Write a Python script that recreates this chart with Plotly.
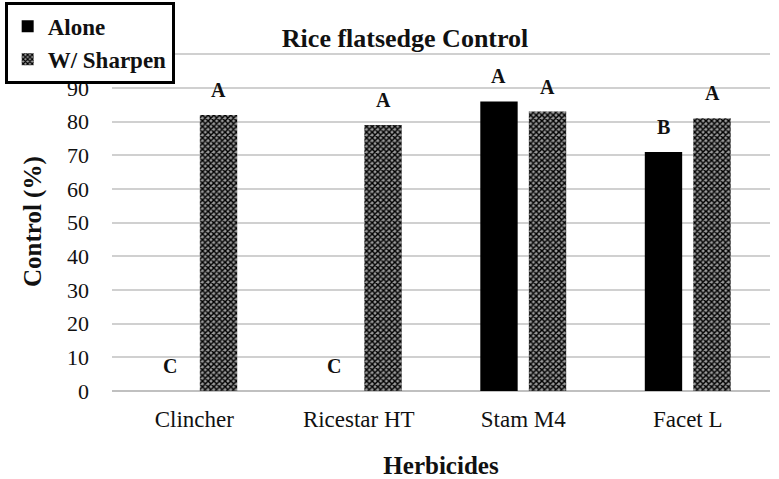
import plotly.graph_objects as go

categories = ["Clincher", "Ricestar HT", "Stam M4", "Facet L"]
alone = [0, 0, 86, 71]
sharpen = [82, 79, 83, 81]
alone_letters = ["C", "C", "A", "B"]
sharpen_letters = ["A", "A", "A", "A"]
y_ticks = [0, 10, 20, 30, 40, 50, 60, 70, 80, 90, 100]

FONT = "Liberation Serif, Times New Roman, serif"
BARGAP = 0.41
ML, MR = 112, 9
PLOT_W = 779 - ML - MR
SLOT = PLOT_W / len(categories) * (1 - BARGAP) / 2

fig = go.Figure()
fig.add_trace(go.Bar(
    name="Alone", x=categories, y=alone,
    marker=dict(color="black", line=dict(width=0)),
))
fig.add_trace(go.Bar(
    name="W/ Sharpen", x=categories, y=sharpen,
    marker=dict(color="#555", line=dict(width=0),
                pattern=dict(shape="x", size=4, solidity=0.6,
                             fgcolor="#000", bgcolor="#9a9a9a", fillmode="replace")),
))

for vals, letters, shift in [(alone, alone_letters, -SLOT / 2), (sharpen, sharpen_letters, SLOT / 2)]:
    for c, v, t in zip(categories, vals, letters):
        fig.add_annotation(x=c, y=v, text=f"<b>{t}</b>", showarrow=False,
                           xshift=shift, yshift=12, yanchor="bottom",
                           font=dict(family=FONT, size=20, color="#111"))

# y-axis title
fig.add_annotation(xref="paper", yref="paper", x=0, y=0.5, xshift=-(ML - 33),
                   text="<b>Control (%)</b>", textangle=-90, showarrow=False,
                   xanchor="center", yanchor="middle",
                   font=dict(family=FONT, size=25, color="#111"))

fig.update_layout(
    width=779, height=479,
    margin=dict(l=ML, r=MR, t=53, b=88, autoexpand=False),
    paper_bgcolor="white", plot_bgcolor="white",
    barmode="group", bargap=BARGAP, bargroupgap=0.23,
    font=dict(family=FONT, color="#111"),
    title=dict(text="<b>Rice flatsedge Control</b>", x=0.52, xanchor="center",
               y=0.921, yanchor="middle", font=dict(size=26, family=FONT, color="#111")),
    showlegend=True,
    legend=dict(
        xref="container", yref="container", x=0.006, y=0.996,
        xanchor="left", yanchor="top",
        bgcolor="white", bordercolor="black", borderwidth=3,
        font=dict(family=FONT, size=23, color="#111", weight="bold"),
        itemwidth=30, tracegroupgap=0,
    ),
    xaxis=dict(
        title=dict(text="<b>Herbicides</b>", font=dict(size=25, family=FONT), standoff=26),
        tickfont=dict(size=23, family=FONT),
        showline=False, ticks="", showgrid=False, ticklabelstandoff=12,
    ),
    yaxis=dict(
        range=[0, 100.4], tickvals=y_ticks,
        ticktext=[str(v) if v < 100 else "" for v in y_ticks],
        tickfont=dict(size=22, family=FONT),
        showgrid=True, gridcolor="#d0d0d0", gridwidth=2,
        zeroline=True, zerolinecolor="#c0c0c0", zerolinewidth=2,
        showline=False, ticks="", ticklabelstandoff=22,
    ),
)

fig.write_html("out.html", config={"displayModeBar": False},
               post_script="document.body.style.margin='0';window.dispatchEvent(new Event('resize'));")
